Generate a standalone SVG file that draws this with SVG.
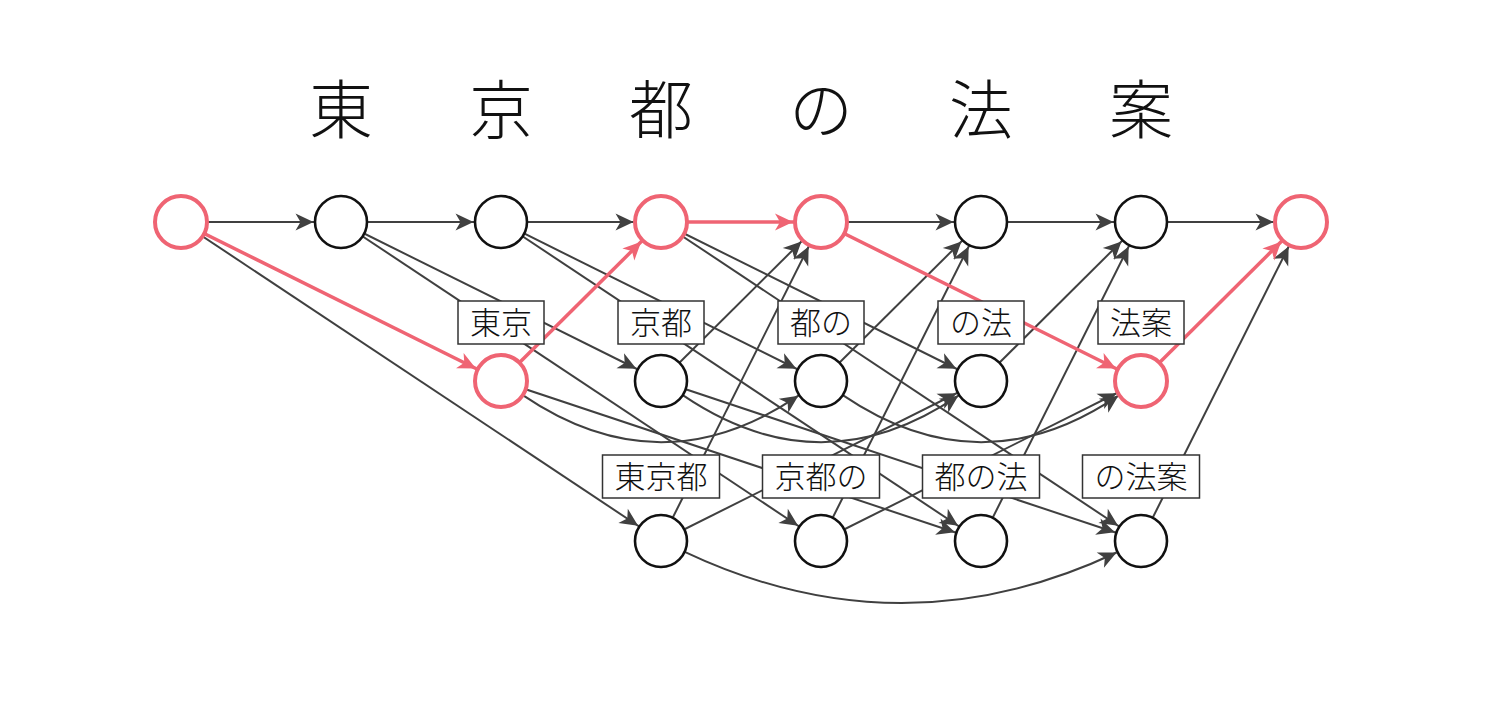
<svg xmlns="http://www.w3.org/2000/svg" width="1500" height="702" viewBox="0 0 1500 702">
<style>
.e{fill:none;stroke:#404040;stroke-width:2;marker-end:url(#a)}
.ec{fill:none;stroke:#404040;stroke-width:2;marker-end:url(#at)}
.r{fill:none;stroke:#ef6473;stroke-width:3.5;marker-end:url(#ar)}
.n{fill:#fff;stroke:#111;stroke-width:2.6}
.nr{fill:#fff;stroke:#ef6473;stroke-width:4}
.lb{fill:#fff;stroke:#333;stroke-width:1.5}
.t{font-family:"Noto Sans CJK JP","Noto Sans CJK SC",sans-serif;font-weight:300;font-size:31px;text-anchor:middle;fill:#111}
.title{font-family:"Noto Sans CJK JP","Noto Sans CJK SC",sans-serif;font-weight:300;font-size:64px;text-anchor:middle;fill:#111}
</style>
<defs>
<marker id="a" markerUnits="userSpaceOnUse" markerWidth="50" markerHeight="20" refX="45.5" refY="8.5" orient="auto" overflow="visible"><path d="M0,0 L18,8.5 L0,17 L5,8.5 z" fill="#404040"/></marker>
<marker id="at" markerUnits="userSpaceOnUse" markerWidth="20" markerHeight="20" refX="18" refY="8.5" orient="auto" overflow="visible"><path d="M0,0 L18,8.5 L0,17 L5,8.5 z" fill="#404040"/></marker>
<marker id="ar" markerUnits="userSpaceOnUse" markerWidth="50" markerHeight="20" refX="46" refY="8.5" orient="auto" overflow="visible"><path d="M0,0 L18,8.5 L0,17 L5,8.5 z" fill="#ef6473"/></marker>
</defs>
<text class="title" x="341 501 661 821 981 1141" y="133">東京都の法案</text>
<g id="edges">
<path class="e" d="M181,222 L341,222"/>
<path class="e" d="M181,222 L661,541"/>
<path class="e" d="M341,222 L501,222"/>
<path class="e" d="M341,222 L661,381"/>
<path class="e" d="M341,222 L821,541"/>
<path class="e" d="M501,222 L661,222"/>
<path class="e" d="M501,222 L821,381"/>
<path class="e" d="M501,222 L981,541"/>
<path class="ec" d="M522.8,395.2 Q661,489 798.4,395.7"/>
<path class="e" d="M501,381 L981,541"/>
<path class="e" d="M661,222 L981,381"/>
<path class="e" d="M661,222 L1141,541"/>
<path class="e" d="M661,381 L821,222"/>
<path class="ec" d="M682.8,395.2 Q821,489 958.4,395.7"/>
<path class="e" d="M661,381 L1141,541"/>
<path class="e" d="M661,541 L821,222"/>
<path class="e" d="M661,541 L981,381"/>
<path class="ec" d="M684.7,551.8 Q901,654 1116.6,552.5"/>
<path class="e" d="M821,222 L981,222"/>
<path class="e" d="M821,381 L981,222"/>
<path class="ec" d="M842.8,395.2 Q981,489 1118.4,395.7"/>
<path class="e" d="M821,541 L981,222"/>
<path class="e" d="M821,541 L1141,381"/>
<path class="e" d="M981,222 L1141,222"/>
<path class="e" d="M981,381 L1141,222"/>
<path class="e" d="M981,541 L1141,222"/>
<path class="e" d="M1141,222 L1301,222"/>
<path class="e" d="M1141,541 L1301,222"/>
<path class="r" d="M181,222 L501,381"/>
<path class="r" d="M501,381 L661,222"/>
<path class="r" d="M661,222 L821,222"/>
<path class="r" d="M821,222 L1141,381"/>
<path class="r" d="M1141,381 L1301,222"/>
</g>
<g id="n-bos"><circle class="nr" cx="181" cy="222" r="26"/></g>
<g id="n-t1"><circle class="n" cx="341" cy="222" r="26"/></g>
<g id="n-t2"><circle class="n" cx="501" cy="222" r="26"/></g>
<g id="n-t3"><circle class="nr" cx="661" cy="222" r="26"/></g>
<g id="n-t4"><circle class="nr" cx="821" cy="222" r="26"/></g>
<g id="n-t5"><circle class="n" cx="981" cy="222" r="26"/></g>
<g id="n-t6"><circle class="n" cx="1141" cy="222" r="26"/></g>
<g id="n-eos"><circle class="nr" cx="1301" cy="222" r="26"/></g>
<g id="n-m2"><circle class="nr" cx="501" cy="381" r="26"/><rect class="lb" x="458" y="301" width="86" height="43"/><text class="t" x="501" y="334">東京</text></g>
<g id="n-m3"><circle class="n" cx="661" cy="381" r="26"/><rect class="lb" x="618" y="301" width="86" height="43"/><text class="t" x="661" y="334">京都</text></g>
<g id="n-m4"><circle class="n" cx="821" cy="381" r="26"/><rect class="lb" x="778" y="301" width="86" height="43"/><text class="t" x="821" y="334">都の</text></g>
<g id="n-m5"><circle class="n" cx="981" cy="381" r="26"/><rect class="lb" x="938" y="301" width="86" height="43"/><text class="t" x="981" y="334">の法</text></g>
<g id="n-m6"><circle class="nr" cx="1141" cy="381" r="26"/><rect class="lb" x="1098" y="301" width="86" height="43"/><text class="t" x="1141" y="334">法案</text></g>
<g id="n-b3"><circle class="n" cx="661" cy="541" r="26"/><rect class="lb" x="602.5" y="455" width="117" height="43"/><text class="t" x="661" y="488">東京都</text></g>
<g id="n-b4"><circle class="n" cx="821" cy="541" r="26"/><rect class="lb" x="762.5" y="455" width="117" height="43"/><text class="t" x="821" y="488">京都の</text></g>
<g id="n-b5"><circle class="n" cx="981" cy="541" r="26"/><rect class="lb" x="922.5" y="455" width="117" height="43"/><text class="t" x="981" y="488">都の法</text></g>
<g id="n-b6"><circle class="n" cx="1141" cy="541" r="26"/><rect class="lb" x="1082.5" y="455" width="117" height="43"/><text class="t" x="1141" y="488">の法案</text></g>
</svg>
